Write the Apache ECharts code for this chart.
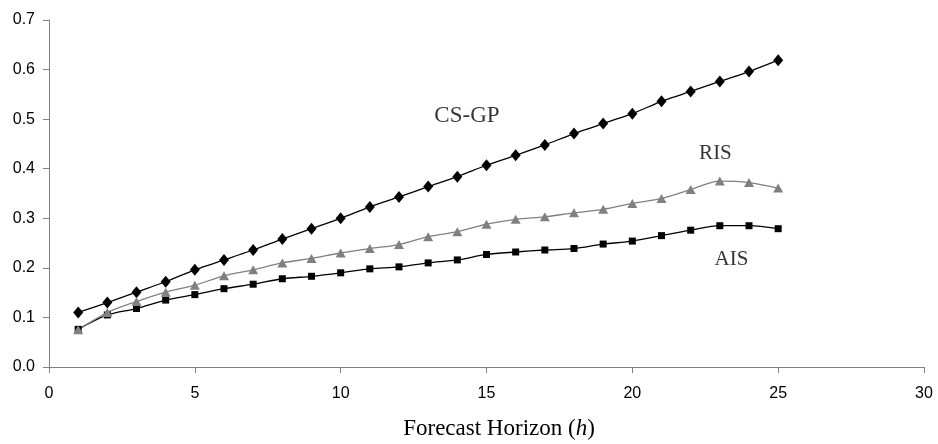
<!DOCTYPE html>
<html><head><meta charset="utf-8">
<script src="https://cdn.jsdelivr.net/npm/echarts@6/dist/echarts.min.js"></script>
<style>html,body{margin:0;padding:0;background:#fff}#c{width:938px;height:444px}</style>
</head><body><div id="c"></div>
<script>
const horizons = [1,2,3,4,5,6,7,8,9,10,11,12,13,14,15,16,17,18,19,20,21,22,23,24,25];
const csgp = [0.110,0.130,0.151,0.172,0.196,0.216,0.236,0.258,0.279,0.300,0.323,0.343,0.364,0.384,0.407,0.427,0.448,0.471,0.491,0.511,0.536,0.556,0.576,0.596,0.619];
const ris  = [0.075,0.110,0.132,0.151,0.165,0.184,0.196,0.210,0.219,0.230,0.239,0.247,0.263,0.273,0.288,0.298,0.303,0.311,0.318,0.330,0.340,0.358,0.375,0.372,0.361];
const ais  = [0.076,0.105,0.118,0.135,0.146,0.158,0.167,0.178,0.183,0.190,0.198,0.202,0.210,0.216,0.227,0.232,0.236,0.239,0.248,0.254,0.265,0.276,0.285,0.285,0.279];
const labelNames = ['CS-GP','RIS','AIS'];
const labelX = [14.33, 22.85, 23.4];
const labelY = [0.506, 0.431, 0.217];
const pair = arr => horizons.map((h,i)=>[h,arr[i]]);
const chart = echarts.init(document.getElementById('c'));
const serif = 'Liberation Serif, Times New Roman, serif';
const sans = 'Liberation Sans, Arial, sans-serif';
const labelFont = n => (n === 'CS-GP' ? 23 : 21);
chart.setOption({
  animation:false,
  grid:{left:49, right:14, top:20, bottom:77, containLabel:false, outerBoundsMode:'none'},
  xAxis:{type:'value', min:0, max:30, interval:5,
    axisLine:{lineStyle:{color:'#808080'}},
    axisTick:{show:true, length:6, lineStyle:{color:'#808080'}},
    splitLine:{show:false},
    axisLabel:{color:'#000', fontFamily:sans, fontSize:16, margin:19},
    name:'{a|Forecast Horizon (}{b|h}{a|)}', nameLocation:'middle', nameGap:50,
    nameTextStyle:{padding:[0,0,0,25], rich:{a:{fontFamily:serif, fontSize:23, color:'#000'},
                         b:{fontFamily:serif, fontSize:23, fontStyle:'italic', color:'#000'}}}
  },
  yAxis:{type:'value', min:0, max:0.7, interval:0.1,
    axisLine:{show:true, lineStyle:{color:'#808080'}},
    axisTick:{show:true, length:6, lineStyle:{color:'#808080'}},
    splitLine:{show:false},
    axisLabel:{color:'#000', fontFamily:sans, fontSize:16, margin:14, formatter:v=>v.toFixed(1)}
  },
  series:[
    {name:'CS-GP', type:'line', data:pair(csgp), smooth:0.2, symbol:'diamond', symbolSize:[10,12],
      lineStyle:{color:'#000', width:1.3}, itemStyle:{color:'#000'}},
    {name:'AIS', type:'line', data:pair(ais), smooth:0.3, symbol:'rect', symbolSize:7,
      lineStyle:{color:'#000', width:1.3}, itemStyle:{color:'#000'}},
    {name:'RIS', type:'line', data:pair(ris), smooth:0.3, symbol:'triangle', symbolSize:[10,9],
      lineStyle:{color:'#808080', width:1.3}, itemStyle:{color:'#808080'}},
    {name:'labels', type:'scatter', silent:true, symbolSize:1, itemStyle:{color:'rgba(0,0,0,0)'},
      data:labelNames.map((n,i)=>({value:[labelX[i],labelY[i]], name:n, label:{fontSize:labelFont(n)}})),
      label:{show:true, position:'inside', formatter:p=>p.name, fontFamily:serif, fontSize:22, color:'#000'}}
  ]
});
</script></body></html>
